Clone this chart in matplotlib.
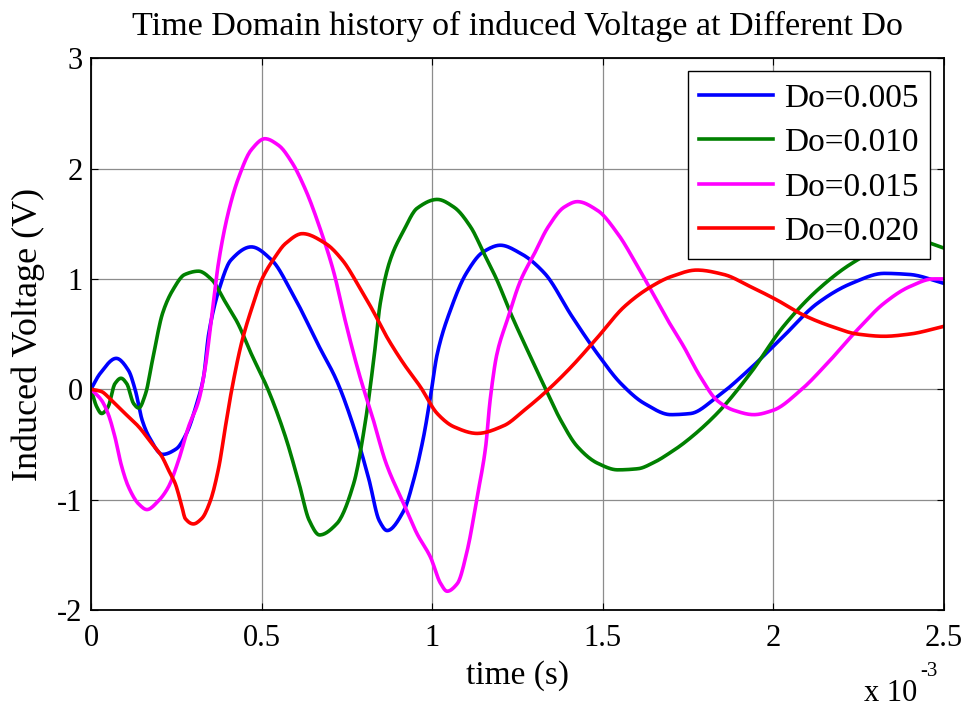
import numpy as np
import matplotlib.pyplot as plt
from matplotlib.ticker import FuncFormatter

plt.rcParams['font.family'] = ['Liberation Serif', 'DejaVu Serif']
plt.rcParams['axes.unicode_minus'] = False

# time in ms, voltage in V
t_005 = [0, 0.026, 0.074, 0.11, 0.13, 0.15, 0.17, 0.21, 0.25, 0.28, 0.31, 0.33, 0.345, 0.375,
         0.41, 0.47, 0.53, 0.59, 0.67, 0.72, 0.77, 0.815, 0.845, 0.868, 0.917, 0.946, 0.975,
         0.995, 1.015, 1.054, 1.10, 1.15, 1.20, 1.26, 1.33, 1.41, 1.485, 1.554, 1.623, 1.70,
         1.757, 1.835, 1.93, 2.03, 2.13, 2.23, 2.325, 2.40, 2.5]
v_005 = [0, 0.14, 0.28, 0.17, -0.01, -0.28, -0.43, -0.59, -0.54, -0.40, -0.13, 0.11, 0.50, 0.90,
         1.17, 1.29, 1.17, 0.87, 0.38, 0.08, -0.34, -0.82, -1.19, -1.28, -1.10, -0.82, -0.43,
         -0.07, 0.32, 0.72, 1.05, 1.245, 1.305, 1.23, 1.05, 0.66, 0.32, 0.05, -0.13, -0.23,
         -0.22, -0.07, 0.18, 0.48, 0.78, 0.96, 1.05, 1.04, 0.96]

t_010 = [0, 0.017, 0.031, 0.05, 0.07, 0.088, 0.105, 0.125, 0.14, 0.16, 0.18, 0.21, 0.24, 0.275,
         0.315, 0.355, 0.39, 0.43, 0.47, 0.52, 0.57, 0.61, 0.64, 0.67, 0.72, 0.77, 0.805, 0.83,
         0.848, 0.877, 0.917, 0.956, 1.015, 1.064, 1.113, 1.152, 1.19, 1.23, 1.28, 1.33, 1.377,
         1.426, 1.485, 1.544, 1.603, 1.652, 1.70, 1.737, 1.835, 1.933, 2.03, 2.13, 2.23, 2.33,
         2.42, 2.5]
v_010 = [0, -0.16, -0.22, -0.16, 0.05, 0.10, 0.05, -0.13, -0.17, -0.04, 0.26, 0.69, 0.90, 1.04,
         1.07, 0.99, 0.81, 0.60, 0.32, -0.01, -0.43, -0.855, -1.19, -1.32, -1.22, -0.855, -0.28,
         0.30, 0.78, 1.17, 1.44, 1.64, 1.72, 1.65, 1.47, 1.23, 0.99, 0.69, 0.35, 0.02, -0.28,
         -0.52, -0.67, -0.73, -0.72, -0.66, -0.57, -0.49, -0.22, 0.145, 0.57, 0.90, 1.14, 1.30,
         1.35, 1.28]

t_015 = [0, 0.031, 0.05, 0.07, 0.09, 0.11, 0.14, 0.164, 0.198, 0.227, 0.257, 0.286, 0.316, 0.335,
         0.355, 0.375, 0.404, 0.433, 0.47, 0.51, 0.55, 0.59, 0.63, 0.67, 0.71, 0.747, 0.786,
         0.825, 0.865, 0.917, 0.956, 0.995, 1.025, 1.044, 1.074, 1.103, 1.132, 1.157, 1.17,
         1.19, 1.22, 1.26, 1.30, 1.34, 1.387, 1.426, 1.485, 1.544, 1.603, 1.652, 1.69, 1.737,
         1.786, 1.835, 1.884, 1.943, 2.0, 2.08, 2.16, 2.247, 2.325, 2.40, 2.47, 2.5]
v_015 = [0, -0.10, -0.22, -0.43, -0.70, -0.885, -1.04, -1.09, -1.01, -0.885, -0.64, -0.34, -0.10,
         0.20, 0.69, 1.17, 1.62, 1.92, 2.17, 2.27, 2.21, 2.05, 1.80, 1.47, 1.08, 0.60, 0.14,
         -0.25, -0.67, -1.04, -1.31, -1.52, -1.76, -1.83, -1.76, -1.46, -0.975, -0.52, -0.10,
         0.32, 0.625, 0.99, 1.23, 1.47, 1.65, 1.70, 1.62, 1.41, 1.11, 0.84, 0.63, 0.39,
         0.115, -0.10, -0.19, -0.23, -0.19, -0.01, 0.24, 0.54, 0.78, 0.93, 1.0, 1.0]

t_020 = [0, 0.03, 0.06, 0.10, 0.14, 0.178, 0.208, 0.227, 0.247, 0.267, 0.276, 0.30, 0.325, 0.35,
         0.375, 0.394, 0.414, 0.443, 0.473, 0.50, 0.54, 0.57, 0.62, 0.688, 0.737, 0.786,
         0.825, 0.868, 0.917, 0.966, 1.015, 1.064, 1.132, 1.21, 1.27, 1.338, 1.407, 1.485,
         1.564, 1.642, 1.70, 1.776, 1.855, 1.933, 2.01, 2.09, 2.17, 2.247, 2.325, 2.40, 2.5]
v_020 = [0, -0.02, -0.10, -0.22, -0.34, -0.49, -0.61, -0.73, -0.855, -1.07, -1.17, -1.22, -1.17,
         -1.01, -0.70, -0.34, 0.02, 0.44, 0.75, 0.99, 1.20, 1.32, 1.41, 1.32, 1.17, 0.93,
         0.72, 0.47, 0.23, 0.02, -0.22, -0.34, -0.40, -0.33, -0.19, -0.01, 0.20, 0.47, 0.75,
         0.93, 1.02, 1.08, 1.04, 0.93, 0.81, 0.67, 0.57, 0.50, 0.48, 0.50, 0.57]

labels = ['Do=0.005', 'Do=0.010', 'Do=0.015', 'Do=0.020']
colors = ['#0000ff', '#008000', '#ff00ff', '#ff0000']
times = [t_005, t_010, t_015, t_020]
volts = [v_005, v_010, v_015, v_020]


def pchip(x, y, xn):
    # monotone cubic hermite interpolation
    x = np.asarray(x, float)
    y = np.asarray(y, float)
    h = np.diff(x)
    d = np.diff(y) / h
    m = np.zeros_like(y)
    m[0], m[-1] = d[0], d[-1]
    for k in range(1, len(x) - 1):
        if d[k - 1] * d[k] > 0:
            w1 = 2 * h[k] + h[k - 1]
            w2 = h[k] + 2 * h[k - 1]
            m[k] = (w1 + w2) / (w1 / d[k - 1] + w2 / d[k])
    i = np.clip(np.searchsorted(x, xn) - 1, 0, len(x) - 2)
    s = (xn - x[i]) / h[i]
    h00 = 2 * s**3 - 3 * s**2 + 1
    h10 = s**3 - 2 * s**2 + s
    h01 = -2 * s**3 + 3 * s**2
    h11 = s**3 - s**2
    return h00 * y[i] + h10 * h[i] * m[i] + h01 * y[i + 1] + h11 * h[i] * m[i + 1]


fig = plt.figure(figsize=(9.68, 7.09), dpi=100)
ax = fig.add_axes([0.094, 0.1396, 0.881, 0.7784])

ts = np.linspace(0, 2.5, 800)
for t, v, c, lab in zip(times, volts, colors, labels):
    ax.plot(ts * 1e-3, pchip(t, v, ts), color=c, lw=2.6, label=lab)

ax.set_xlim(0, 2.5e-3)
ax.set_ylim(-2, 3)
ax.set_xticks(np.arange(0, 2.51e-3, 0.5e-3))
ax.xaxis.set_major_formatter(FuncFormatter(lambda x, p: '%g' % round(x * 1e3, 3)))
ax.set_yticks([-2, -1, 0, 1, 2, 3])
ax.grid(True, color='0.55', lw=0.9)
ax.tick_params(direction='in', top=True, right=True, labelsize=22, length=5)
ax.tick_params(axis='x', pad=10)
ax.tick_params(axis='y', pad=6)
for s in ax.spines.values():
    s.set_linewidth(1.3)

ax.set_title('Time Domain history of induced Voltage at Different Do', fontsize=24.5, pad=17)
ax.set_xlabel('time (s)', fontsize=24, labelpad=5)
ax.set_ylabel('Induced Voltage (V)', fontsize=26, labelpad=9)

# exponent of the time axis
fig.text(0.893, 0.011, 'x 10', fontsize=22)
fig.text(0.951, 0.046, '-3', fontsize=15)

leg = ax.legend(loc='upper right', fontsize=24, handlelength=2.2, handletextpad=0.35,
                fancybox=False, framealpha=1, edgecolor='k', borderaxespad=0.4,
                labelspacing=0.42, borderpad=0.35)
leg.get_frame().set_linewidth(1.0)

fig.savefig('out.png', dpi=100)
